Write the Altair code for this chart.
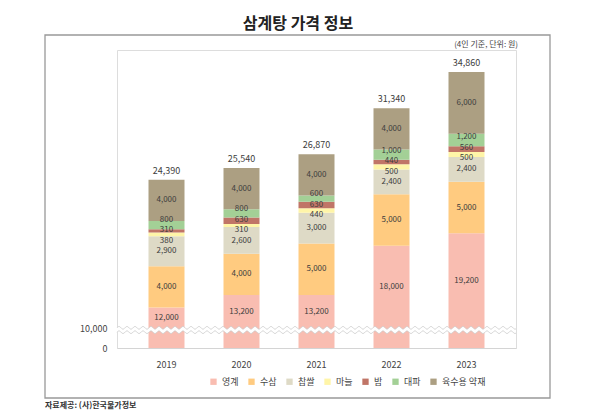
import altair as alt
import pandas as pd

# ---- data ----
years = ["2019", "2020", "2021", "2022", "2023"]
categories = ["영계", "수삼", "찹쌀", "마늘", "밤", "대파", "육수용 약재"]
youngge = [12000, 13200, 13200, 18000, 19200]
susam = [4000, 4000, 5000, 5000, 5000]
chapssal = [2900, 2600, 3000, 2400, 2400]
maneul = [380, 310, 440, 500, 500]
bam = [310, 630, 630, 440, 560]
daepa = [800, 800, 600, 1000, 1200]
yakjae = [4000, 4000, 4000, 4000, 6000]
y_ticks = [0, 10000]
colors = ["#F9BDB1", "#FFCB80", "#DEDAC6", "#FFF5A8", "#C07567", "#A3D096", "#AC9F82"]

series = [youngge, susam, chapssal, maneul, bam, daepa, yakjae]

FONT = "Noto Sans CJK KR"
BREAK = 10000
Y_MAX = 37000
W, H = 399, 298
PX_PER_UNIT = (H - 20) / (Y_MAX - BREAK)
MIN_GAP = 10.5 / PX_PER_UNIT


def spread(mids, gap):
    clusters = [[i] for i in range(len(mids))]

    def place(cl):
        center = sum(mids[j] for j in cl) / len(cl)
        n = len(cl)
        return [center + (k - (n - 1) / 2) * gap for k in range(n)]

    changed = True
    while changed:
        changed = False
        for k in range(len(clusters) - 1):
            pa, pb = place(clusters[k]), place(clusters[k + 1])
            if pb[0] - pa[-1] < gap - 1e-9:
                clusters[k] = clusters[k] + clusters[k + 1]
                del clusters[k + 1]
                changed = True
                break
    out = [0.0] * len(mids)
    for cl in clusters:
        for j, p in zip(cl, place(cl)):
            out[j] = p
    return out


rows, totals = [], []
for i, yr in enumerate(years):
    base = 0
    items = []
    for c, (cat, vals) in enumerate(zip(categories, series)):
        v = vals[i]
        start, end = base, base + v
        items.append(dict(year=yr, cat=cat, value=v, start=start, end=end,
                          mid=(max(start, BREAK) + end) / 2))
        base = end
    pos = spread([it["mid"] for it in items], MIN_GAP)
    for it, p in zip(items, pos):
        it["labpos"] = p
    rows.extend(items)
    totals.append(dict(year=yr, total=base))

df = pd.DataFrame(rows)
tot = pd.DataFrame(totals)
one = pd.DataFrame({"k": [0]})

yscale = alt.Scale(domain=[0, BREAK, Y_MAX], range=[H, H - 20, 0], nice=False, zero=False)
xscale = alt.Scale(domain=years, paddingInner=0.52, paddingOuter=0.42)

x_enc = alt.X("year:N", scale=xscale, sort=years,
              axis=alt.Axis(title=None, labelAngle=0, domainColor="#d4d4d4", domainWidth=1,
                            ticks=False, labelPadding=12, labelFontSize=9,
                            labelColor="#444", labelFont=FONT))

bars = alt.Chart(df).mark_bar().encode(
    x=x_enc,
    y=alt.Y("start:Q", scale=yscale,
            axis=alt.Axis(title=None, values=y_ticks, labelExpr="format(datum.value, ',')",
                          grid=False, domain=False, ticks=False, labelPadding=10,
                          labelFontSize=9, labelColor="#444", labelFont=FONT)),
    y2="end:Q",
    color=alt.Color("cat:N", scale=alt.Scale(domain=categories, range=colors),
                    legend=alt.Legend(title=None, orient="none", direction="horizontal",
                                      legendX=92, legendY=327, symbolType="square",
                                      symbolSize=40, symbolStrokeWidth=0, labelFontSize=9,
                                      labelFont=FONT, labelColor="#444", columnPadding=8,
                                      labelOffset=4)),
)

labels = alt.Chart(df).mark_text(font=FONT, fontSize=8, color="#3d3d3d").encode(
    x=alt.X("year:N", scale=xscale, sort=years),
    y=alt.Y("labpos:Q", scale=yscale),
    text=alt.Text("value:Q", format=","),
)

total_labels = alt.Chart(tot).mark_text(font=FONT, fontSize=9, color="#3d3d3d",
                                        baseline="bottom", dy=-4).encode(
    x=alt.X("year:N", scale=xscale, sort=years),
    y=alt.Y("total:Q", scale=yscale),
    text=alt.Text("total:Q", format=","),
)

border = alt.Chart(one).mark_rect(fillOpacity=0, stroke="#999999", strokeWidth=1.3).encode(
    x=alt.value(-72), x2=alt.value(433), y=alt.value(-15), y2=alt.value(348)
)

subtitle = alt.Chart(one).mark_text(text="(4인 기준, 단위: 원)", font=FONT, fontSize=8,
                                    color="#444", align="right", baseline="middle").encode(
    x=alt.value(401), y=alt.value(-5)
)

footer = alt.Chart(one).mark_text(text="자료제공: (사)한국물가정보", font=FONT, fontSize=8,
                                  fontWeight="bold", color="#333", align="left",
                                  baseline="middle").encode(
    x=alt.value(-72), y=alt.value(356)
)

main = alt.layer(border, bars, labels, total_labels, subtitle, footer)

# decorative wavy axis break at 10,000
wave_base = alt.Chart(alt.sequence(0, W + 0.5, 0.5, as_="px")).transform_calculate(
    s="1.3*sin(2*PI*datum.px/8)",
    top="20.2+datum.s",
    bot="15.8+datum.s",
)
wx = alt.X("px:Q", scale=alt.Scale(domain=[0, W], nice=False, zero=False), axis=None)
wys = alt.Scale(domain=[0, H], nice=False, zero=False)
wave_area = wave_base.mark_area(color="white", opacity=1).encode(
    x=wx, y=alt.Y("top:Q", scale=wys, axis=None), y2="bot:Q")
wave_top = wave_base.mark_line(color="#c8c8c8", strokeWidth=0.8).encode(
    x=wx, y=alt.Y("top:Q", scale=wys, axis=None))
wave_bot = wave_base.mark_line(color="#c8c8c8", strokeWidth=0.8).encode(
    x=wx, y=alt.Y("bot:Q", scale=wys, axis=None))
wave = alt.layer(wave_area, wave_top, wave_bot)

chart = alt.layer(main, wave).resolve_scale(x="independent", y="independent").properties(
    width=W, height=H,
    title=alt.TitleParams("삼계탕 가격 정보", font=FONT, fontSize=16, fontWeight="bold",
                          color="#222", anchor="middle", dx=-18.5, offset=2),
    autosize=alt.AutoSizeParams(type="none"),
    padding={"left": 109, "top": 42, "right": 72, "bottom": 64},
).configure_view(stroke=None).configure(background="white")

chart.save("out.html", embed_options={"renderer": "svg", "actions": False})
